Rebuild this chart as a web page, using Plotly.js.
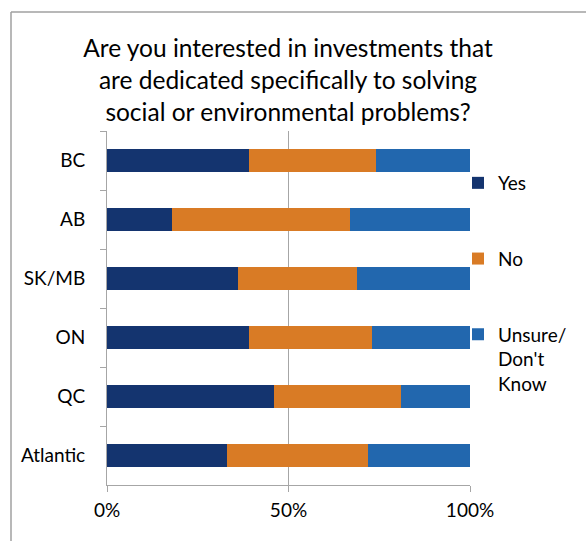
<!DOCTYPE html>
<html>
<head>
<meta charset="utf-8">
<script src="https://cdn.plot.ly/plotly-3.0.1.min.js"></script>
<style>html,body{margin:0;padding:0;background:#fff;}#chart{width:586px;height:541px;}</style>
</head>
<body>
<div id="chart"></div>
<script>
const regions = ["BC", "AB", "SK/MB", "ON", "QC", "Atlantic"];
const yesValues = [39, 18, 36, 39, 46, 33];
const noValues = [35, 49, 33, 34, 35, 39];
const unsureValues = [26, 33, 31, 27, 19, 28];
const seriesNames = ["Yes", "No", "Unsure/<br>Don't<br>Know"];
const seriesColors = ["#14346F", "#D97B25", "#2267AE"];
const xTickVals = [0, 50, 100];
const xTickText = ["0%", "50%", "100%"];

const FONT = "Lato, 'Open Sans', sans-serif";
const allValues = [yesValues, noValues, unsureValues];
const traces = allValues.map((vals, i) => ({
  type: "bar",
  orientation: "h",
  y: regions,
  x: vals,
  name: seriesNames[i],
  legendgroup: "g" + i,
  marker: {color: seriesColors[i], line: {width: 0}},
  hoverinfo: "x+y+name"
}));

const layout = {
  width: 586,
  height: 541,
  margin: {l: 107, r: 116, t: 131, b: 56, autoexpand: false},
  paper_bgcolor: "#ffffff",
  plot_bgcolor: "#ffffff",
  barmode: "stack",
  bargap: 0.61,
  font: {family: FONT, size: 19, color: "#000000"},
  title: {
    text: "Are you interested in investments that<br>are dedicated specifically to solving<br>social or environmental problems?",
    font: {family: FONT, size: 24.5, color: "#000000"},
    x: 288 / 586,
    xref: "container",
    xanchor: "center",
    y: 1 - 57 / 541,
    yref: "container",
    yanchor: "top"
  },
  xaxis: {
    range: [0, 100],
    tickvals: xTickVals,
    ticktext: xTickText,
    showgrid: true,
    gridcolor: "#a6a6a6",
    gridwidth: 1,
    zeroline: false,
    showline: true,
    linecolor: "#a6a6a6",
    linewidth: 1,
    ticks: "outside",
    ticklen: 6,
    tickcolor: "#a6a6a6",
    ticklabelstandoff: 2,
    tickfont: {family: FONT, size: 19, color: "#000000"},
    fixedrange: true
  },
  yaxis: {
    type: "category",
    autorange: "reversed",
    showgrid: false,
    zeroline: false,
    showline: true,
    linecolor: "#a6a6a6",
    linewidth: 1,
    ticks: "outside",
    tickson: "boundaries",
    ticklen: 6,
    tickcolor: "#a6a6a6",
    ticklabelstandoff: 17,
    tickfont: {family: FONT, size: 19, color: "#000000"},
    fixedrange: true
  },
  legend: {
    x: (458 - 107) / 363,
    xanchor: "left",
    y: (485 - 164) / 354,
    yanchor: "top",
    traceorder: "grouped",
    tracegroupgap: 48,
    valign: "top",
    itemwidth: 30,
    font: {family: FONT, size: 19, color: "#000000"},
    bgcolor: "rgba(0,0,0,0)"
  },
  shapes: [
    {type: "line", layer: "above", xref: "paper", yref: "paper", x0: (11 - 107) / 363, x1: (590 - 107) / 363, y0: (485 - 12) / 354, y1: (485 - 12) / 354, line: {color: "#a0a0a0", width: 1.5}},
    {type: "line", layer: "above", xref: "paper", yref: "paper", x0: (11 - 107) / 363, x1: (11 - 107) / 363, y0: (485 - 12) / 354, y1: (485 - 545) / 354, line: {color: "#a0a0a0", width: 1.5}}
  ]
};

Plotly.newPlot("chart", traces, layout, {displayModeBar: false, staticPlot: true});
</script>
</body>
</html>
